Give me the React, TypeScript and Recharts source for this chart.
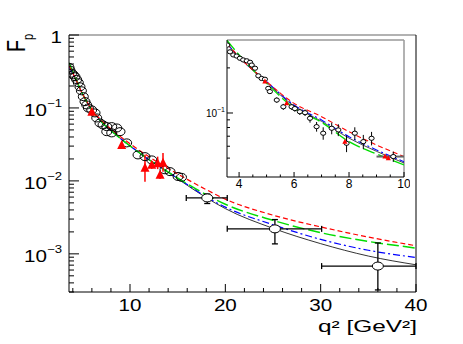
import {
  CartesianGrid,
  ComposedChart,
  ErrorBar,
  Line,
  ReferenceLine,
  Scatter,
  XAxis,
  YAxis,
} from "recharts";

// model curves, main panel (q^2 in GeV^2)
const curveQ = [3.6, 4, 5, 6, 7, 8, 10, 12, 14, 16, 18, 20, 25, 30, 35, 40];
const fitRed = [0.38, 0.302, 0.158, 0.0955, 0.0676, 0.0513, 0.0324, 0.0214, 0.0148, 0.0105, 0.00759, 0.00562, 0.00339, 0.00234, 0.0017, 0.00129];
const fitGreen = [0.417, 0.316, 0.158, 0.0933, 0.0646, 0.049, 0.0302, 0.0195, 0.0132, 0.00912, 0.00646, 0.00479, 0.00288, 0.00195, 0.00148, 0.0012];
const fitBlue = [0.372, 0.295, 0.158, 0.0933, 0.0646, 0.049, 0.0302, 0.0195, 0.0132, 0.00891, 0.00603, 0.00437, 0.00251, 0.00158, 0.00112, 0.000891];
const fitBlack = [0.372, 0.295, 0.158, 0.0933, 0.0646, 0.049, 0.0302, 0.0195, 0.0132, 0.00871, 0.00589, 0.00417, 0.00224, 0.00138, 0.000933, 0.000708];

// open circles, main panel
const circleQ = [3.6, 3.7, 3.88, 4.05, 4.23, 4.4, 4.58, 4.75, 4.9, 5.1, 5.28, 5.46, 5.63, 5.98, 6.33, 6.51, 6.85, 7.17, 7.56, 7.56, 8.08, 8.08, 8.61, 8.95, 9.65, 10.84, 11.57, 12.28, 13.67, 14.2, 15.04, 15.4];
const circleF = [0.36, 0.33, 0.3, 0.285, 0.268, 0.245, 0.222, 0.195, 0.172, 0.143, 0.122, 0.11, 0.1, 0.094, 0.0855, 0.073, 0.0623, 0.0585, 0.0555, 0.0473, 0.0555, 0.0455, 0.0532, 0.0473, 0.0332, 0.0227, 0.0215, 0.0194, 0.0142, 0.0134, 0.0115, 0.0112];

// high q^2 points with errors
const highQ = [18.1, 25.2, 36.0];
const highF = [0.00585, 0.0022, 0.00068];
const highExLow = [2.2, 5.0, 5.9];
const highExHigh = [2.1, 4.9, 4.0];
const highEyLow = [0.00095, 0.00083, 0.00036];
const highEyHigh = [0.00075, 0.00075, 0.00073];

// red triangles
const triQ = [9.13, 11.57, 12.28, 12.9, 13.46, 13.15, 6.0];
const triF = [0.0311, 0.0151, 0.0166, 0.0175, 0.0177, 0.0121, 0.089];
const triEyLow = [0.002, 0.0054, 0.002, 0.003, 0.0043, 0.0015, 0.004];
const triEyHigh = [0.002, 0.0077, 0.002, 0.004, 0.0065, 0.0015, 0.004];

// inset
const insetCurveQ = [3.56, 4, 5, 6, 7, 8, 9, 10];
const insetRed = [0.29, 0.237, 0.162, 0.116, 0.0945, 0.075, 0.0612, 0.0512];
const insetGreen = [0.305, 0.244, 0.158, 0.108, 0.0867, 0.0644, 0.0533, 0.045];
const insetBlue = [0.29, 0.237, 0.162, 0.113, 0.0898, 0.0695, 0.0567, 0.0473];
const insetBlack = [0.29, 0.235, 0.16, 0.111, 0.088, 0.068, 0.0555, 0.0464];

const insetQ = [3.57, 3.67, 3.79, 3.91, 4.03, 4.15, 4.28, 4.4, 4.46, 4.58, 4.7, 4.82, 4.94, 5.06, 5.12, 5.37, 5.61, 5.91, 6.03, 6.21, 6.4, 6.58, 6.82, 7.06, 7.37, 7.61, 7.91, 8.21, 8.52, 8.82];
const insetF = [0.284, 0.256, 0.244, 0.24, 0.232, 0.226, 0.223, 0.218, 0.209, 0.199, 0.177, 0.17, 0.168, 0.146, 0.139, 0.122, 0.11, 0.11, 0.107, 0.102, 0.1005, 0.0922, 0.0811, 0.0733, 0.0791, 0.0771, 0.0628, 0.0733, 0.0644, 0.0678];
const insetErr = [0.004, 0.004, 0.004, 0.004, 0.004, 0.004, 0.004, 0.004, 0.004, 0.004, 0.004, 0.004, 0.004, 0.005, 0.005, 0.005, 0.005, 0.005, 0.005, 0.005, 0.005, 0.006, 0.006, 0.007, 0.007, 0.007, 0.008, 0.007, 0.007, 0.007];
const insetLastQ = [9.61];
const insetLastF = [0.0512];
const insetRedQ = [4.94, 5.73, 7.85, 9.31, 9.43];
const insetRedF = [0.162, 0.116, 0.0644, 0.0512, 0.0499];

const mainXTicks = [4, 6, 8, 10, 12, 14, 16, 18, 20, 22, 24, 26, 28, 30, 32, 34, 36, 38, 40];
const mainXLabels = [10, 20, 30, 40];
const insetXTicks = [4, 4.5, 5, 5.5, 6, 6.5, 7, 7.5, 8, 8.5, 9, 9.5, 10];
const insetXLabels = [4, 6, 8, 10];
const mainYTicks = [1e-4, 1e-3, 1e-2, 1e-1]
  .flatMap((d) => [1, 2, 3, 4, 5, 6, 7, 8, 9].map((m) => +(m * d).toPrecision(3)))
  .filter((v) => v >= 3e-4)
  .concat([1]);
const insetYTicks = [0.05, 0.06, 0.07, 0.08, 0.09, 0.1, 0.2];

const rows = (qs: number[], fs: number[]) => qs.map((q, i) => ({ q, F: fs[i] }));

const highRows = highQ.map((q, i) => ({
  q,
  F: highF[i],
  ex: [highExLow[i], highExHigh[i]],
  ey: [highEyLow[i], highEyHigh[i]],
}));
const triRows = triQ.map((q, i) => ({ q, F: triF[i], ey: [triEyLow[i], triEyHigh[i]] }));
const insetRows = insetQ.map((q, i) => ({ q, F: insetF[i], ey: insetErr[i] }));
const insetLastRows = insetLastQ.map((q, i) => ({ q, F: insetLastF[i], ex: [0.61, 0.39], ey: 0.004 }));

const FONT = "'Liberation Sans', Arial, sans-serif";
const SX = 1.25;

const isDecade = (v: number) => Math.abs(Math.log10(v) - Math.round(Math.log10(v))) < 1e-6;

const MainYTick = ({ x, y, payload }: any) => {
  const v = payload.value as number;
  const major = isDecade(v);
  const exp = Math.round(Math.log10(v));
  return (
    <g>
      <line x1={x} x2={x + (major ? 10 : 5)} y1={y} y2={y} stroke="#000" />
      {major && (
        <text
          transform={`translate(${x - 7},${y + 8}) scale(${SX},1)`}
          textAnchor="end"
          fontFamily={FONT}
          fontSize={16.5}
          fill="#000"
        >
          {exp === 0 ? (
            "1"
          ) : (
            <>
              <tspan>10</tspan>
              <tspan dy={-9} fontSize={10.5}>{"\u2212" + -exp}</tspan>
            </>
          )}
        </text>
      )}
    </g>
  );
};

const MainXTick = ({ x, y, payload }: any) => {
  const v = payload.value as number;
  const major = mainXLabels.includes(v);
  return (
    <g>
      <line x1={x} x2={x} y1={y} y2={y - (major ? 8 : 4)} stroke="#000" />
      {major && (
        <text
          transform={`translate(${x},${y + 19}) scale(${SX},1)`}
          textAnchor="middle"
          fontFamily={FONT}
          fontSize={16.5}
          fill="#000"
        >
          {v}
        </text>
      )}
    </g>
  );
};

const InsetYTick = ({ x, y, payload }: any) => {
  const v = payload.value as number;
  const major = isDecade(v);
  return (
    <g>
      <line x1={x} x2={x + (major ? 6 : 3)} y1={y} y2={y} stroke="#000" />
      {major && (
        <text x={x - 2} y={y + 4} textAnchor="end" fontFamily={FONT} fontSize={10} fill="#000">
          <tspan>10</tspan>
          <tspan dy={-5} fontSize={7}>{"\u22121"}</tspan>
        </text>
      )}
    </g>
  );
};

const InsetXTick = ({ x, y, payload }: any) => {
  const v = payload.value as number;
  const major = insetXLabels.includes(v);
  return (
    <g>
      <line x1={x} x2={x} y1={y} y2={y - (major ? 5 : 2.5)} stroke="#000" />
      {major && (
        <text x={x} y={y + 11} textAnchor="middle" fontFamily={FONT} fontSize={12} fill="#000">
          {v}
        </text>
      )}
    </g>
  );
};

const OpenCircle = ({ cx, cy }: any) => (
  <ellipse cx={cx} cy={cy} rx={5} ry={4} fill="none" stroke="#000" strokeWidth={1} />
);
const BigCircle = ({ cx, cy }: any) => (
  <ellipse cx={cx} cy={cy} rx={5.5} ry={4} fill="#fff" stroke="#000" strokeWidth={1} />
);
const RedTriangle = ({ cx, cy }: any) => (
  <polygon points={`${cx},${cy - 5} ${cx - 4.5},${cy + 4} ${cx + 4.5},${cy + 4}`} fill="#ff0000" />
);
const SmallCircle = ({ cx, cy }: any) => (
  <ellipse cx={cx} cy={cy} rx={2.6} ry={2.1} fill="#fff" stroke="#000" strokeWidth={1} />
);
const SmallRed = ({ cx, cy }: any) => (
  <polygon points={`${cx},${cy - 3} ${cx - 2.6},${cy + 2} ${cx + 2.6},${cy + 2}`} fill="#ff0000" />
);

const curveStyles = [
  { data: fitBlack, inset: insetBlack, stroke: "#000000", dash: undefined, width: 0.8 },
  { data: fitBlue, inset: insetBlue, stroke: "#0000ff", dash: "7 3 2 3", width: 1.2 },
  { data: fitGreen, inset: insetGreen, stroke: "#00dd00", dash: "12 4", width: 1.5 },
  { data: fitRed, inset: insetRed, stroke: "#ff0000", dash: "5 3", width: 1.2 },
];

const App = () => {
  return (
    <div style={{ position: "absolute", left: 0, top: 0, width: 463, height: 344, background: "#fff" }}>
      <div style={{ position: "absolute", left: 0, top: 0 }}>
        <ComposedChart width={463} height={344} margin={{ top: 35, right: 47, bottom: 22, left: 0 }}>
          <XAxis
            type="number"
            dataKey="q"
            domain={[3.6, 40]}
            allowDataOverflow
            ticks={mainXTicks}
            interval={0}
            tickSize={0}
            tickMargin={0}
            tickLine={false}
            tick={MainXTick}
            height={30}
            axisLine={{ stroke: "#000" }}
          />
          <YAxis
            type="number"
            dataKey="F"
            scale="log"
            domain={[3e-4, 1]}
            allowDataOverflow
            ticks={mainYTicks}
            interval={0}
            tickSize={0}
            tickMargin={0}
            tickLine={false}
            tick={MainYTick}
            width={69}
            axisLine={{ stroke: "#000" }}
          />
          <ReferenceLine y={1} stroke="#999" strokeWidth={1.5} />
          <ReferenceLine x={40} stroke="#000" />
          {curveStyles.map((c, i) => (
            <Line
              key={i}
              data={rows(curveQ, c.data)}
              dataKey="F"
              type="monotone"
              stroke={c.stroke}
              strokeWidth={c.width}
              strokeDasharray={c.dash}
              dot={false}
              activeDot={false}
              isAnimationActive={false}
            />
          ))}
          <Scatter data={rows(circleQ, circleF)} dataKey="F" shape={OpenCircle} isAnimationActive={false} />
          <Scatter data={triRows} dataKey="F" shape={RedTriangle} isAnimationActive={false}>
            <ErrorBar dataKey="ey" direction="y" width={0} stroke="#ff0000" strokeWidth={1.5} />
          </Scatter>
          <Scatter data={highRows} dataKey="F" shape={BigCircle} isAnimationActive={false}>
            <ErrorBar dataKey="ex" direction="x" width={3} stroke="#000" strokeWidth={1.3} />
            <ErrorBar dataKey="ey" direction="y" width={3} stroke="#000" strokeWidth={1.3} />
          </Scatter>
        </ComposedChart>
      </div>

      <div style={{ position: "absolute", left: 195, top: 35 }}>
        <ComposedChart width={215} height={160} margin={{ top: 5, right: 6, bottom: 2, left: 0 }}>
          <CartesianGrid fill="#fff" horizontal={false} vertical={false} />
          <XAxis
            type="number"
            dataKey="q"
            domain={[3.56, 10]}
            allowDataOverflow
            ticks={insetXTicks}
            interval={0}
            tickSize={0}
            tickMargin={0}
            tickLine={false}
            tick={InsetXTick}
            height={16}
            axisLine={{ stroke: "#000" }}
          />
          <YAxis
            type="number"
            dataKey="F"
            scale="log"
            domain={[0.0374, 0.307]}
            allowDataOverflow
            ticks={insetYTicks}
            interval={0}
            tickSize={0}
            tickMargin={0}
            tickLine={false}
            tick={InsetYTick}
            width={32}
            axisLine={{ stroke: "#000" }}
          />
          <ReferenceLine y={0.307} stroke="#999" strokeWidth={1.5} />
          <ReferenceLine x={10} stroke="#999" strokeWidth={1.5} />
          {curveStyles.map((c, i) => (
            <Line
              key={i}
              data={rows(insetCurveQ, c.inset)}
              dataKey="F"
              type="monotone"
              stroke={c.stroke}
              strokeWidth={c.width * 0.9}
              strokeDasharray={c.dash}
              dot={false}
              activeDot={false}
              isAnimationActive={false}
            />
          ))}
          <Scatter data={insetRows} dataKey="F" shape={SmallCircle} isAnimationActive={false}>
            <ErrorBar dataKey="ey" direction="y" width={0} stroke="#000" strokeWidth={1} />
          </Scatter>
          <Scatter data={insetLastRows} dataKey="F" shape={SmallCircle} isAnimationActive={false}>
            <ErrorBar dataKey="ex" direction="x" width={0} stroke="#666" strokeWidth={2} />
            <ErrorBar dataKey="ey" direction="y" width={0} stroke="#000" strokeWidth={1} />
          </Scatter>
          <Scatter data={rows(insetRedQ, insetRedF)} dataKey="F" shape={SmallRed} isAnimationActive={false} />
        </ComposedChart>
      </div>

      <svg width={463} height={344} style={{ position: "absolute", left: 0, top: 0, pointerEvents: "none" }}>
        <text
          transform={`translate(25,52) scale(1.28,1) rotate(-90)`}
          fontFamily={FONT}
          fontSize={19.5}
          fill="#000"
        >
          F<tspan dy={6} fontSize={11}>p</tspan>
        </text>
        <text
          x={417}
          y={332}
          textAnchor="end"
          fontFamily={FONT}
          fontSize={16.5}
          textLength={99}
          lengthAdjust="spacingAndGlyphs"
          fill="#000"
        >
          q² [GeV²]
        </text>
      </svg>
    </div>
  );
};

export default App;
